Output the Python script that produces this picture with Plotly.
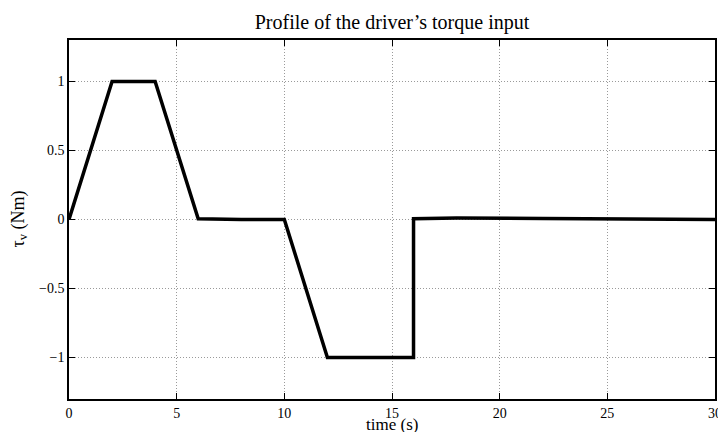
import plotly.graph_objects as go

time_s = [0, 2, 4, 6, 8, 10, 12, 16, 16.0001, 18, 22, 26, 30]
torque = [0, 1, 1, 0.005, 0.0, 0.0, -1, -1, 0.005, 0.01, 0.008, 0.004, 0.0]

x_ticks = [0, 5, 10, 15, 20, 25, 30]
x_tick_labels = ["0", "5", "10", "15", "20", "25", "30"]
y_ticks = [-1, -0.5, 0, 0.5, 1]
y_tick_labels = ["\u22121", "\u22120.5", "0", "0.5", "1"]

# page body has an ~8px margin; figure sized to fit the 726x432 window
W, H = 718, 424
L, R, T, B = 61, 11, 32, 33
PW, PH = W - L - R, H - T - B

fig = go.Figure()
fig.add_trace(go.Scatter(x=time_s, y=torque, mode="lines",
                         line=dict(color="black", width=3.5), showlegend=False))

font = "Liberation Serif"
axis_common = dict(showline=True, linecolor="black", linewidth=1.5, mirror="ticks",
                   ticks="inside", ticklen=6, tickcolor="black", tickwidth=1,
                   showgrid=True, gridcolor="#9a9a9a", griddash="1px,2px", gridwidth=1,
                   zeroline=False, automargin=False,
                   tickfont=dict(family=font, size=14, color="black"))

fig.update_layout(
    width=W, height=H,
    margin=dict(l=L, r=R, t=T, b=B),
    paper_bgcolor="white", plot_bgcolor="white",
    title=dict(text="Profile of the driver\u2019s torque input", x=(L + PW / 2) / W, xanchor="center",
               y=1 - 14 / H, yanchor="middle",
               font=dict(family=font, size=20, color="black")),
    xaxis=dict(range=[0, 30], tickvals=x_ticks, ticktext=x_tick_labels, **axis_common),
    yaxis=dict(range=[-1.3, 1.3], tickvals=y_ticks, ticktext=y_tick_labels, **axis_common),
    annotations=[
        dict(text="time (s)", xref="paper", yref="paper", x=0.5, y=-(416.5 - (T + PH)) / PH,
             xanchor="center", yanchor="middle", showarrow=False,
             font=dict(family=font, size=17, color="black")),
        dict(text="\u03c4<sub>v</sub> (Nm)", xref="paper", yref="paper", x=(11 - L) / PW, y=0.5,
             xanchor="center", yanchor="middle", textangle=-90, showarrow=False,
             font=dict(family=font, size=18, color="black")),
    ],
)

fig.write_html("out.html")
